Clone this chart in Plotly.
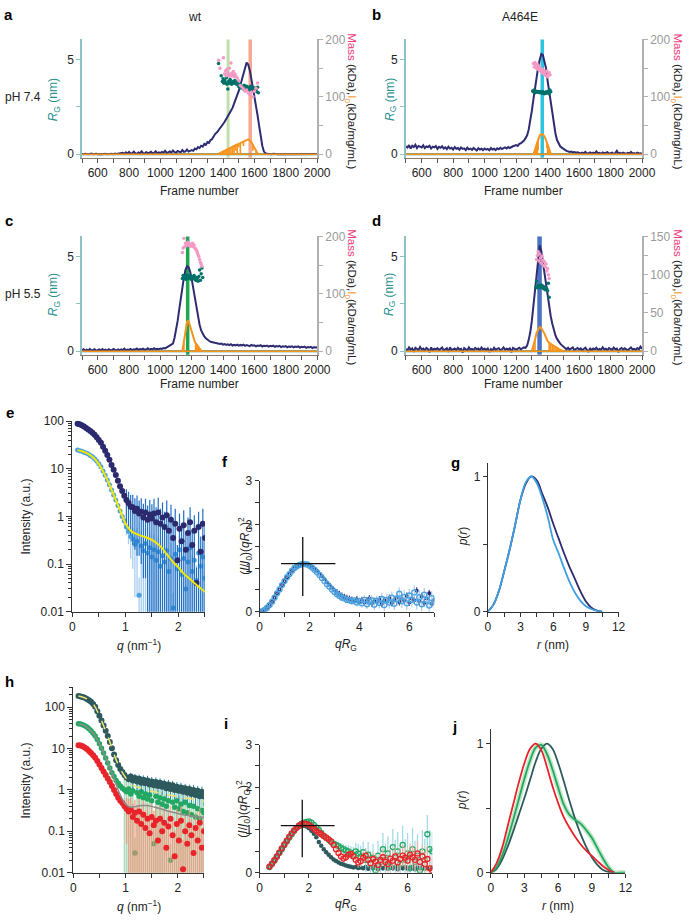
import plotly.graph_objects as go

W, H = 697, 921
FONT = "Liberation Sans, Arial, Helvetica, sans-serif"

# ------------------------------------------------------------------ data
FRAMES = list(range(500, 2001, 10))

INT_A = [0.02,0.00,0.03,0.01,0.00,0.02,0.04,0.00,0.01,0.03,
         0.00,0.02,0.01,0.00,0.03,0.02,0.00,0.01,0.04,0.02,
         0.00,0.03,0.01,0.02,0.05,0.03,0.08,0.02,0.10,0.04,
         0.12,0.03,0.06,0.14,0.05,0.02,0.09,0.04,0.15,0.06,
         0.03,0.11,0.05,0.08,0.13,0.04,0.07,0.16,0.05,0.10,
         0.06,0.12,0.08,0.18,0.07,0.10,0.15,0.09,0.20,0.11,
         0.08,0.17,0.12,0.10,0.22,0.13,0.15,0.25,0.14,0.20,
         0.22,0.18,0.30,0.26,0.38,0.33,0.45,0.40,0.55,0.50,
         0.64,0.60,0.75,0.80,0.95,1.08,1.15,1.28,1.38,1.50,
         1.60,1.72,1.85,2.00,2.15,2.30,2.45,2.65,2.85,3.10,
         3.35,3.65,3.95,4.30,4.60,4.85,4.75,4.45,4.00,3.55,
         3.05,2.60,2.05,1.50,0.95,0.45,0.15,0.05,0.02,0.01,
         0.01,0.00,0.02,0.00,0.01,0.00,0.00,0.02,0.01,0.00,
         0.00,0.01,0.00,0.02,0.00,0.01,0.00,0.00,0.01,0.00,
         0.02,0.00,0.01,0.00,0.00,0.01,0.00,0.00,0.01,0.00,
         0.01]
INT_B = [0.42,0.35,0.48,0.30,0.45,0.38,0.50,0.33,0.44,0.40,
         0.36,0.47,0.32,0.41,0.38,0.45,0.30,0.40,0.36,0.43,
         0.28,0.39,0.34,0.42,0.30,0.36,0.27,0.40,0.30,0.34,
         0.25,0.38,0.29,0.33,0.24,0.36,0.28,0.31,0.22,0.35,
         0.26,0.30,0.23,0.33,0.27,0.20,0.32,0.25,0.29,0.22,
         0.30,0.24,0.28,0.21,0.33,0.25,0.29,0.22,0.31,0.26,
         0.34,0.27,0.32,0.36,0.30,0.38,0.33,0.40,0.42,0.45,
         0.48,0.44,0.55,0.58,0.65,0.72,0.85,1.00,1.30,1.75,
         2.30,2.90,3.50,4.10,4.60,5.00,5.30,5.25,4.95,4.55,
         3.90,3.30,2.70,2.10,1.55,1.10,0.75,0.55,0.42,0.35,
         0.28,0.22,0.18,0.15,0.12,0.14,0.10,0.12,0.08,0.10,
         0.07,0.04,0.09,0.05,0.12,0.03,0.06,0.10,0.04,0.08,
         0.03,0.15,0.05,0.07,0.02,0.09,0.04,0.06,0.11,0.03,
         0.05,0.08,0.02,0.06,0.18,0.04,0.07,0.03,0.09,0.05,
         0.02,0.07,0.04,0.12,0.03,0.06,0.02,0.08,0.04,0.05,
         0.03]
INT_C = [0.05,0.10,0.02,0.08,0.04,0.12,0.03,0.07,0.10,0.02,
         0.06,0.09,0.03,0.11,0.05,0.08,0.02,0.10,0.06,0.04,
         0.12,0.07,0.03,0.09,0.05,0.10,0.06,0.13,0.04,0.09,
         0.07,0.12,0.05,0.10,0.08,0.14,0.06,0.11,0.09,0.13,
         0.07,0.10,0.15,0.08,0.12,0.10,0.16,0.09,0.13,0.11,
         0.14,0.12,0.17,0.15,0.20,0.22,0.28,0.33,0.40,0.70,
         1.10,1.60,2.20,2.80,3.40,3.90,4.30,4.50,4.45,4.20,
         3.80,3.30,2.70,2.20,1.80,1.40,1.10,0.90,0.78,0.68,
         0.60,0.55,0.50,0.48,0.45,0.43,0.42,0.40,0.38,0.40,
         0.35,0.38,0.33,0.36,0.32,0.37,0.30,0.34,0.31,0.35,
         0.29,0.33,0.30,0.34,0.28,0.32,0.30,0.27,0.33,0.29,
         0.31,0.26,0.30,0.28,0.32,0.25,0.29,0.27,0.30,0.24,
         0.28,0.26,0.29,0.23,0.27,0.25,0.28,0.22,0.26,0.24,
         0.27,0.21,0.25,0.23,0.26,0.20,0.24,0.22,0.25,0.19,
         0.23,0.21,0.24,0.18,0.22,0.20,0.23,0.17,0.21,0.19,
         0.20]
INT_D = [0.12,0.05,0.20,0.08,0.15,-0.03,0.18,0.10,0.06,0.22,
         0.09,0.14,0.04,0.17,0.11,-0.05,0.20,0.05,0.13,0.09,
         0.16,0.06,0.12,0.19,0.04,0.10,0.15,-0.04,0.21,0.06,
         0.11,0.14,0.05,0.18,0.09,0.13,-0.06,0.16,0.10,0.04,
         0.20,0.08,0.12,0.06,0.17,0.10,0.14,0.05,0.19,0.09,
         0.13,0.07,0.15,-0.04,0.11,0.04,0.18,0.08,0.12,0.16,
         0.06,0.10,0.20,0.07,0.13,0.09,0.15,-0.05,0.17,0.11,
         0.08,0.12,0.18,0.10,0.15,0.20,0.18,0.30,0.60,1.00,
         1.60,2.40,3.30,4.20,5.10,5.60,5.30,4.70,4.10,3.40,
         2.80,2.30,1.85,1.45,1.10,0.83,0.65,0.50,0.40,0.32,
         0.25,0.15,0.10,0.18,0.08,0.14,0.20,0.06,0.12,0.17,
         0.09,0.15,0.05,0.13,0.19,0.07,-0.04,0.16,0.04,0.14,
         0.10,0.18,0.06,0.12,0.08,0.21,0.09,0.13,0.05,0.16,
         0.11,0.07,0.19,0.10,0.14,-0.05,0.12,0.17,0.08,0.15,
         0.10,0.05,0.13,0.20,0.09,0.12,0.07,0.16,0.10,0.24,
         0.12]

RG_A_F = [1371,1388,1395,1400,1405,1410,1415,1420,1425,1430,1435,1440,1445,1450,1455,1460,1465,1470,1475,1480,
          1485,1490,1495,1500,1505,1510,1515,1520,1525,1530,1535,1540,1545,1550,1555,1560,1565,1570,1575,1580,
          1585,1590,1595,1600,1605,1610,1615,1620,1625]
RG_A = [4.80,4.15,3.85,4.00,3.75,3.90,3.80,4.05,3.70,3.45,3.85,3.75,3.95,3.80,3.70,3.85,3.80,3.75,3.90,3.80,
        3.70,3.75,3.85,3.60,3.55,3.70,3.50,3.60,3.55,3.45,3.65,3.50,3.55,3.60,3.45,3.50,3.55,3.40,3.60,3.50,
        3.45,3.55,3.40,3.50,3.35,3.45,3.30,3.55,3.25]
MASS_A_F = [1371,1380,1392,1402,1410,1415,1420,1425,1430,1435,1440,1445,1450,1455,1460,1465,1470,1475,1480,1490,
            1500,1510,1520,1530,1540,1550,1560,1570,1580,1590,1600,1610,1620]
MASS_A = [164,150,213,168,140,145,137,148,142,139,150,136,159,141,138,144,135,140,137,133,
          128,120,117,114,110,112,107,104,108,100,110,115,124]
I0_A_F = [1370,1380,1390,1400,1410,1420,1430,1440,1450,1460,1470,1480,1490,1500,1510,1520,1530,1540,1550,1560,
          1570,1580,1590,1600,1610,1620]
I0_A = [0.5,2,3.5,5,6.5,8,9.5,11,12,13.5,14.5,16,17,18,19.5,21,22.5,24,25.5,26,24,21,16,11,6,1.5]
I0_A_ERR = [0.5,2,3.5,5,6.5,8,9.5,11,12,13.5,14.5,10,17,6,19.5,0,8,0,0,0,0,0,10,0,6,1.5]

RG_B_F = [1305,1310,1315,1320,1325,1330,1335,1340,1345,1350,1355,1360,1365,1370,1375,1380,1385,1390,1395,1400,
          1405,1410,1415,1420]
RG_B = [3.35,3.30,3.40,3.25,3.35,3.30,3.28,3.32,3.30,3.25,3.30,3.28,3.22,3.30,3.25,3.20,3.28,3.22,3.30,3.25,
        3.35,3.20,3.40,3.30]
MASS_B_F = [1310,1315,1320,1325,1330,1335,1340,1345,1350,1355,1360,1365,1370,1375,1380,1385,1390,1395,1400,1405,
            1410,1415]
MASS_B = [158,152,160,155,150,157,148,153,146,150,144,148,141,146,139,143,137,145,135,140,142,138]
I0_B_F = [1310,1315,1320,1325,1330,1335,1340,1345,1350,1355,1360,1365,1370,1375,1380,1385,1390,1395,1400,1405,
          1410,1415,1420]
I0_B = [0,4,9,14,19,23,27,30,32.5,34,35,35,34.5,33,31,28,25,21,17,13,9,5,1]
I0_B_ERR = [0,4,9,14,19,23,20,0,0,0,0,0,0,0,0,0,0,10,17,13,9,5,1]

RG_C_F = [1140,1145,1150,1155,1160,1165,1170,1175,1180,1185,1190,1195,1200,1205,1210,1215,1220,1225,1230,1235,
          1240,1245,1250,1255,1260,1265,1270]
RG_C = [3.85,4.00,3.90,3.95,3.80,4.05,3.90,3.85,3.95,4.00,3.90,3.80,3.95,3.85,3.90,4.00,3.80,3.75,3.90,3.85,
        3.70,3.95,4.30,3.75,4.10,4.40,3.90]
MASS_C_F = [1140,1145,1150,1155,1160,1165,1170,1175,1180,1185,1190,1195,1200,1205,1210,1215,1220,1225,1230,1235,
            1240,1245,1250,1255,1260,1265]
MASS_C = [172,180,197,182,188,184,186,190,185,187,183,186,184,188,182,185,180,178,176,172,168,165,160,155,152,148]
I0_C_F = [1140,1145,1150,1155,1160,1165,1170,1175,1180,1185,1190,1195,1200,1205,1210,1215,1220,1225,1230,1235,
          1240,1245,1250,1255,1260]
I0_C = [0,8,17,27,37,46,51,53,52,48,43,38,32,27,22,19,16,14,12,10.5,9,7,5,3,1]
I0_C_ERR = [0,8,17,0,0,0,0,0,0,0,0,0,0,0,0,0,0,14,12,10.5,9,7,5,3,1]

RG_D_F = [1325,1330,1335,1340,1345,1350,1355,1360,1365,1370,1375,1380,1385,1390,1395,1400,1405,1410]
RG_D = [3.40,3.70,3.35,3.50,3.40,3.45,3.35,3.50,3.40,3.45,3.30,3.40,3.25,3.35,3.30,3.20,3.60,2.85]
MASS_D_F = [1330,1335,1340,1345,1350,1355,1360,1365,1370,1375,1380,1385,1390,1395,1400,1405,1410]
MASS_D = [120,125,130,118,127,122,115,124,119,112,117,110,114,105,108,100,95]
I0_D_F = [1300,1310,1320,1330,1340,1350,1360,1370,1380,1390,1400,1410,1420,1430,1440,1450,1460,1470,1480,1490,1500]
I0_D = [0,6,15,24,29,31.5,30,27,23,18,13,11,9.5,8,6.5,5,4,3,2,1,0]
I0_D_ERR = [0,6,15,0,0,0,0,0,0,0,0,11,9.5,8,6.5,5,4,3,2,1,0]

BAND_A = [1432, 1573]
BAND_B = [1366]
BAND_C = [1174]
BAND_D = [1349]

# SAXS curves (panel e, h): q grid
Q = [round(0.10 + 0.04 * i, 2) for i in range(61)]
Q_FIT = [round(0.1 * i, 1) for i in range(1, 26)]

E_DARK = [88,86,82,77,72,67,62,57,52,46,
          40,35,29,24,19.5,15.5,12,9.5,7.4,5.6,
          4.3,3.4,2.7,2.2,1.9,1.6,1.55,1.3,1.45,1.15,
          1.25,0.95,1.2,0.85,1.1,0.9,1.15,0.75,1.2,0.7,
          0.95,0.6,1.05,0.5,0.85,0.35,0.7,0.12,0.55,0.3,
          0.65,0.2,0.45,0.75,0.25,0.5,0.04,0.6,0.18,0.7,
          0.35]
E_DARK_ERR = [0,0,0,0,0,0,0,0,0,0,0,0,0,0,0,0,0,0,0,0,0,0,0,
              1.5,1.4,1.2,1.3,1.1,1.3,1.0,1.15,0.9,1.15,0.85,1.1,0.9,
              1.2,0.8,1.25,0.75,1.0,0.65,1.1,0.55,0.9,0.4,0.75,0.13,0.6,0.32,0.7,0.22,0.5,0.8,0.27,0.55,
              0.045,0.65,0.2,0.75,0.38]
E_LIGHT = [24.6,24,23.3,22.3,21.3,20.3,19,17.8,16.3,14.6,
           12.8,11,9.0,7.3,5.8,4.6,3.6,2.8,2.2,1.7,
           1.3,1.0,0.8,0.6,0.48,0.38,0.33,0.26,0.3,0.022,
           0.24,0.19,0.27,0.17,0.22,0.14,0.2,0.12,0.18,0.09,
           0.15,0.11,0.19,0.07,0.13,0.012,0.16,0.08,0.2,0.06,
           0.13,0.03,0.11,0.22,0.07,0.12,0.045,0.17,0.09,0.14,
           0.05]
E_LIGHT_ERR = [0,0,0,0,0,0,0,0,0,0,0,0,0,0,0,0,0,0,0,
               0.1,0.12,0.15,0.18,0.2,0.22,0.25,0.25,0.24,0.28,0.03,
               0.26,0.2,0.3,0.19,0.24,0.15,0.22,0.13,0.2,0.1,0.17,0.12,0.21,0.08,0.14,
               0.013,0.18,0.09,0.22,0.07,0.14,0.035,0.12,0.24,0.08,0.13,0.05,0.19,0.1,0.15,0.055]
E_FIT = [24.6,23.0,20.5,17.0,12.5,8.0,4.6,2.5,1.35,0.72,0.50,0.43,0.39,0.36,0.32,0.27,0.21,0.15,0.11,0.085,
         0.063,0.05,0.04,0.032,0.026]

# Kratky (panel f)
KX_F = [round(0.1 * i, 1) for i in range(1, 71)]
F_LIGHT = [0.01,0.04,0.09,0.15,0.23,0.32,0.42,0.51,0.61,0.70,
           0.79,0.86,0.94,1.00,1.04,1.07,1.09,1.09,1.08,1.05,
           1.01,0.96,0.90,0.84,0.77,0.70,0.63,0.57,0.51,0.45,
           0.40,0.36,0.32,0.30,0.27,0.26,0.24,0.26,0.21,0.24,
           0.19,0.27,0.17,0.23,0.26,0.16,0.25,0.20,0.29,0.15,
           0.27,0.21,0.32,0.18,0.29,0.41,0.24,0.34,0.19,0.37,
           0.27,0.44,0.21,0.33,0.17,0.39,0.26,0.14,0.31,0.23]
F_DARK = [0.01,0.04,0.09,0.15,0.23,0.32,0.42,0.51,0.61,0.70,
          0.79,0.87,0.94,1.00,1.04,1.07,1.09,1.10,1.09,1.06,
          1.03,0.98,0.93,0.87,0.81,0.74,0.67,0.61,0.55,0.49,
          0.44,0.40,0.36,0.33,0.31,0.29,0.27,0.25,0.28,0.23,
          0.26,0.21,0.25,0.30,0.19,0.24,0.22,0.28,0.18,0.26,
          0.23,0.31,0.20,0.27,0.33,0.22,0.29,0.25,0.36,0.21,
          0.30,0.26,0.48,0.24,0.35,0.20,0.30,0.42,0.18,0.27]
F_LIGHT_ERR = [0.02,0.02,0.02,0.02,0.02,0.02,0.02,0.02,0.02,0.02,
               0.02,0.02,0.02,0.02,0.02,0.02,0.02,0.02,0.02,0.02,
               0.02,0.02,0.02,0.02,0.02,0.02,0.02,0.02,0.02,0.02,
               0.05,0.05,0.06,0.06,0.07,0.07,0.08,0.08,0.09,0.09,
               0.10,0.10,0.11,0.11,0.12,0.12,0.12,0.13,0.13,0.13,
               0.14,0.14,0.14,0.14,0.15,0.15,0.15,0.15,0.15,0.15,
               0.16,0.16,0.16,0.16,0.16,0.16,0.16,0.16,0.16,0.16]
F_DARK_ERR = [0.02,0.02,0.02,0.02,0.02,0.02,0.02,0.02,0.02,0.02,
              0.02,0.02,0.02,0.02,0.02,0.02,0.02,0.02,0.02,0.02,
              0.02,0.02,0.02,0.02,0.02,0.02,0.02,0.02,0.02,0.02,
              0.08,0.08,0.08,0.08,0.08,0.08,0.08,0.08,0.08,0.08,
              0.08,0.08,0.08,0.08,0.08,0.08,0.08,0.08,0.08,0.08,
              0.08,0.08,0.08,0.08,0.08,0.08,0.08,0.08,0.08,0.08,
              0.08,0.08,0.08,0.08,0.08,0.08,0.08,0.08,0.08,0.08]
CROSS_X = [0.86, 3.04, None, 1.73, 1.73]
CROSS_Y = [1.10, 1.10, None, 0.36, 1.71]

# p(r) (panel g)
R_G = [0.5 * i for i in range(22)]
PR_G_NAVY = [0,0.05,0.15,0.30,0.46,0.64,0.83,0.95,1.00,0.97,0.87,0.77,0.65,0.54,0.43,0.33,0.24,0.15,0.075,0.03,0.008,0]
PR_G_LIGHT = [0,0.05,0.15,0.30,0.46,0.64,0.83,0.96,1.00,0.95,0.84,0.70,0.53,0.43,0.32,0.22,0.14,0.08,0.04,0.02,0.006,0]

# panel h
H_SLATE = [186,182,176,168,158,148,135,120,103,80,
           62,48,36,27,20,14.5,10.2,7.2,5.2,4.0,
           3.2,2.7,2.3,2.0,1.8,2.1,1.7,1.95,1.6,1.85,
           1.5,1.75,1.45,1.7,1.35,1.6,1.3,1.55,1.25,1.5,
           1.2,1.4,1.1,1.35,1.05,1.3,1.0,1.2,0.95,1.15,
           0.9,1.1,0.85,1.05,0.8,1.0,0.75,0.95,0.7,0.9,
           0.7]
H_SLATE_ERR = [0,0,0,0,0,0,0,0,0,0,0,0,0,0,0,0,0,0,0,0,0,0,0,0,0,
               0.5,0.6,0.5,0.6,0.5,0.6,0.5,0.55,0.5,0.55,0.45,0.5,0.45,0.5,0.4,0.45,0.4,0.45,0.4,0.45,
               0.35,0.4,0.35,0.4,0.35,0.4,0.3,0.35,0.3,0.35,0.3,0.35,0.3,0.3,0.3,0.3]
H_GREEN = [40,39,37.5,35.5,33,30,27,23.5,20,16.5,
           13,10.2,7.8,5.9,4.5,3.4,2.6,2.1,1.7,1.45,
           1.25,1.1,1.0,0.9,1.05,0.8,0.95,0.03,0.85,0.7,
           0.9,0.65,0.8,0.6,0.75,0.55,0.05,0.7,0.5,0.65,
           0.45,0.6,0.4,0.55,0.02,0.5,0.38,0.55,0.35,0.45,
           0.3,0.5,0.28,0.42,0.25,0.4,0.22,0.35,0.2,0.32,
           0.28]
H_GREEN_ERR = [0,0,0,0,0,0,0,0,0,0,0,0,0,0,0,0,0,0,0,0,0,0,
               1.0,0.9,1.05,0.8,0.95,0.04,0.85,0.7,0.9,0.65,0.8,0.6,0.75,0.55,0.06,0.7,0.5,0.65,0.45,0.6,
               0.4,0.55,0.03,0.5,0.38,0.55,0.35,0.45,0.3,0.5,0.28,0.42,0.25,0.4,0.22,0.35,0.2,0.32,0.28]
H_RED = [12,11.8,11.3,10.6,9.7,8.7,7.8,6.9,6.0,5.0,
         4.1,3.4,2.8,2.3,1.9,1.55,1.25,1.0,0.8,0.65,
         0.55,0.48,0.4,0.35,0.3,0.33,0.22,0.28,0.18,0.3,
         0.15,0.25,0.12,0.2,0.09,0.22,0.14,0.18,0.06,0.2,
         0.1,0.16,0.04,0.13,0.2,0.08,0.025,0.15,0.06,0.18,
         0.012,0.1,0.05,0.14,0.08,0.03,0.12,0.06,0.16,0.04,
         0.1]
H_RED_ERR = [0,0,0,0,0,0,0,0,0,0,0,0,0,0,0,0,0,0,0,0,0,0,0,
             0.3,0.3,0.33,0.25,0.3,0.22,0.3,0.2,0.28,0.18,0.26,0.15,0.25,0.18,0.22,0.12,0.22,0.15,0.2,0.1,
             0.18,0.22,0.12,0.08,0.2,0.1,0.22,0.05,0.15,0.1,0.18,0.12,0.08,0.16,0.1,0.2,0.08,0.14]
H_FIT_SLATE = [186,172,148,111,62,31,14.5,6.2,3.2,2.0,1.4,1.2,1.1,1.0,0.93,0.87,0.82,0.77,0.73,0.69,
               0.66,0.62,0.59,0.56,0.53]
H_FIT_GREY = [40,37,30,22,13,7.0,3.5,1.6,0.75,0.45,0.38,0.40,0.42,0.42,0.40,0.37,0.34,0.31,0.29,0.27,
              0.25,0.24,0.23,0.22,0.22]

# Kratky (panel i)
KX_I = [round(0.1 * i, 1) for i in range(4, 71)]
I_SLATE = [0.13,0.20,0.28,0.37,0.46,0.56,0.65,0.74,0.83,0.91,
           0.98,1.04,1.08,1.10,1.10,1.08,1.04,0.98,0.91,0.83,
           0.72,0.63,0.55,0.48,0.42,0.36,0.31,0.27,0.24,0.21,
           0.19,0.17,0.15,0.14,0.12,0.13,0.11,0.12,0.10,0.13,
           0.09,0.12,0.10,0.14,0.08,0.12,0.10,0.13,0.09,0.12,
           0.10,0.14,0.08,0.12,0.10,0.13,0.09,0.11,0.14,0.08,
           0.12,0.10,0.13,0.09,0.11,0.10,0.12]
I_GREEN = [0.13,0.20,0.28,0.37,0.46,0.55,0.64,0.73,0.82,0.90,
           0.98,1.05,1.10,1.14,1.17,1.19,1.20,1.17,1.12,1.06,
           1.00,0.93,0.86,0.82,0.77,0.72,0.68,0.65,0.62,0.58,
           0.55,0.52,0.50,0.47,0.42,0.50,0.45,0.38,0.48,0.30,
           0.42,0.20,0.35,0.05,0.40,0.25,0.55,0.30,0.45,0.15,
           0.60,0.35,0.50,0.20,0.65,0.30,0.45,0.10,0.55,0.25,
           0.40,0.05,0.50,0.30,0.90,0.55,0.50]
I_RED = [0.14,0.21,0.29,0.38,0.47,0.57,0.66,0.75,0.84,0.92,
         0.99,1.05,1.10,1.14,1.15,1.14,1.12,1.08,1.03,0.98,
         0.94,0.90,0.86,0.82,0.78,0.73,0.65,0.55,0.46,0.38,
         0.33,0.36,0.42,0.44,0.38,0.30,0.24,0.27,0.35,0.40,
         0.30,0.22,0.32,0.26,0.18,0.30,0.36,0.25,0.20,0.33,
         0.28,0.38,0.24,0.32,0.40,0.35,0.28,0.42,0.36,0.30,
         0.45,0.25,0.38,0.20,0.32,0.10,0.05]
I_SLATE_ERR = [0.01,0.01,0.01,0.01,0.01,0.01,0.01,0.01,0.01,0.01,
               0.01,0.01,0.01,0.01,0.01,0.01,0.01,0.01,0.01,0.01,
               0.03,0.03,0.03,0.03,0.03,0.03,0.03,0.03,0.03,0.03,
               0.03,0.03,0.03,0.03,0.03,0.03,0.03,0.03,0.03,0.03,
               0.05,0.05,0.05,0.05,0.05,0.05,0.05,0.05,0.05,0.05,
               0.05,0.05,0.05,0.05,0.05,0.05,0.05,0.05,0.05,0.05,
               0.05,0.05,0.05,0.05,0.05,0.05,0.05]
I_GREEN_ERR = [0.02,0.02,0.02,0.02,0.02,0.02,0.02,0.02,0.02,0.02,
               0.02,0.02,0.02,0.02,0.02,0.02,0.02,0.02,0.02,0.02,
               0.06,0.06,0.07,0.07,0.08,0.08,0.09,0.10,0.10,0.11,
               0.12,0.13,0.14,0.15,0.18,0.20,0.22,0.25,0.25,0.28,
               0.30,0.30,0.32,0.32,0.35,0.35,0.38,0.38,0.40,0.40,
               0.42,0.42,0.45,0.45,0.45,0.48,0.48,0.50,0.50,0.50,
               0.50,0.50,0.50,0.50,0.45,0.45,0.45]
I_RED_ERR = [0.02,0.02,0.02,0.02,0.02,0.02,0.02,0.02,0.02,0.02,
             0.02,0.02,0.02,0.02,0.02,0.02,0.02,0.02,0.02,0.02,
             0.04,0.04,0.05,0.05,0.05,0.06,0.06,0.07,0.07,0.08,
             0.08,0.09,0.10,0.10,0.11,0.12,0.12,0.13,0.14,0.15,
             0.15,0.16,0.17,0.18,0.18,0.19,0.20,0.20,0.21,0.22,
             0.22,0.23,0.24,0.24,0.25,0.25,0.26,0.26,0.27,0.27,
             0.28,0.28,0.28,0.30,0.30,0.30,0.30]

# p(r) (panel j)
R_J = [0.5 * i for i in range(25)]
PR_J_SLATE = [0,0.03,0.10,0.20,0.32,0.45,0.58,0.72,0.86,0.96,1.00,0.96,0.85,0.71,0.56,0.42,0.30,0.20,0.12,0.06,
              0.02,0.005,0]
PR_J_GREEN = [0,0.04,0.13,0.26,0.41,0.57,0.73,0.87,0.97,0.99,0.92,0.80,0.66,0.53,0.45,0.41,0.38,0.33,0.27,0.19,
              0.11,0.04,0,0,0]
PR_J_RED = [0,0.07,0.19,0.36,0.53,0.70,0.85,0.96,1.00,0.95,0.82,0.67,0.54,0.43,0.35,0.28,0.22,0.17,0.13,0.09,
            0.05,0.02,0]

for name, arr, n in [("INT_A", INT_A, 151), ("INT_B", INT_B, 151), ("INT_C", INT_C, 151), ("INT_D", INT_D, 151),
                     ("E_DARK", E_DARK, 61), ("E_DARK_ERR", E_DARK_ERR, 61), ("E_LIGHT", E_LIGHT, 61),
                     ("E_LIGHT_ERR", E_LIGHT_ERR, 61), ("H_SLATE", H_SLATE, 61), ("H_SLATE_ERR", H_SLATE_ERR, 61),
                     ("H_GREEN", H_GREEN, 61), ("H_GREEN_ERR", H_GREEN_ERR, 61), ("H_RED", H_RED, 61),
                     ("H_RED_ERR", H_RED_ERR, 61), ("F_LIGHT", F_LIGHT, 70), ("F_DARK", F_DARK, 70),
                     ("I_SLATE", I_SLATE, 67), ("I_GREEN", I_GREEN, 67), ("I_RED", I_RED, 67),
                     ("I_GREEN_ERR", I_GREEN_ERR, 67), ("I_RED_ERR", I_RED_ERR, 67), ("I_SLATE_ERR", I_SLATE_ERR, 67)]:
    assert len(arr) == n, (name, len(arr))

# ------------------------------------------------------------------ style
NAVY = "#2e2c72"
TEAL_DOT = "#00716a"
TEAL_TXT = "#2a9090"
PINK = "#f49ac4"
MASS_TXT = "#ee3b7a"
ORANGE = "#f7941d"
GREY_AX = "#b0b0b0"
AXC = "#333333"


def fx(p):
    return p / W


def fy(p):
    return 1 - p / H


fig = go.Figure()
layout = dict(width=W, height=H, margin=dict(l=0, r=0, t=0, b=0), paper_bgcolor="white",
              plot_bgcolor="white", showlegend=False, font=dict(family=FONT, size=12, color="#222"))
shapes = []
ann = []


def text(x, y, s, size=12, color="#222", angle=0, xanchor="center"):
    ann.append(dict(x=fx(x), y=fy(y), xref="paper", yref="paper", text=s, showarrow=False,
                    font=dict(family=FONT, size=size, color=color), textangle=angle,
                    xanchor=xanchor, yanchor="middle"))


base_ax = dict(showgrid=False, zeroline=False, showline=True, ticks="outside", ticklen=4, tickwidth=1,
               tickfont=dict(size=12, color="#222"), linewidth=1)


def minor(vals, color, ln=4):
    return dict(tickvals=vals, ticks="outside", ticklen=ln, tickcolor=color, showgrid=False)


# ---------- chromatogram panels a-d
chrom = [
    (1, 1, 2, 81, 322, 33, 153, INT_A, RG_A_F, RG_A, MASS_A_F, MASS_A, I0_A_F, I0_A, I0_A_ERR,
     BAND_A, ["#bfe0a8", "#f8a88e"], [3, 3.5], 200),
    (2, 3, 4, 413, 655, 33, 153, INT_B, RG_B_F, RG_B, MASS_B_F, MASS_B, I0_B_F, I0_B, I0_B_ERR,
     BAND_B, ["#2ec4e0"], [3.5], 200),
    (3, 5, 6, 81, 322, 233, 353, INT_C, RG_C_F, RG_C, MASS_C_F, MASS_C, I0_C_F, I0_C, I0_C_ERR,
     BAND_C, ["#1ea650"], [3.5], 200),
    (4, 7, 8, 413, 655, 233, 353, INT_D, RG_D_F, RG_D, MASS_D_F, MASS_D, I0_D_F, I0_D, I0_D_ERR,
     BAND_D, ["#4a72c2"], [4.5], 150),
]

for (xn, yl, yr, x0, x1, ytop, ybot, inten, rgf, rg, mf, m, i0f, i0, i0e, bands, bcols, bws, rmax) in chrom:
    xa = "x" if xn == 1 else "x%d" % xn
    yla = "y" if yl == 1 else "y%d" % yl
    yra = "y%d" % yr
    zero_px = ybot - 3.5
    px_per_nm = (zero_px - ytop) / 6.07
    lo = -(ybot - zero_px) / px_per_nm
    px_per_k = (zero_px - ytop) / rmax
    rlo = -(ybot - zero_px) / px_per_k

    layout["xaxis" if xn == 1 else "xaxis%d" % xn] = dict(
        base_ax, domain=[fx(x0), fx(x1)], anchor=yla, range=[500, 2000],
        tickvals=[600, 800, 1000, 1200, 1400, 1600, 1800, 2000], linecolor="#8a7a70",
        tickcolor="#555", minor=minor([500, 700, 900, 1100, 1300, 1500, 1700, 1900], "#555"))
    layout["yaxis" if yl == 1 else "yaxis%d" % yl] = dict(
        base_ax, domain=[fy(ybot), fy(ytop)], anchor=xa, range=[lo, 6.07],
        tickvals=[0, 5], linecolor="#8cc2c4", linewidth=1.5,
        tickcolor="#8cc2c4", minor=minor([2.5], "#8cc2c4"))
    if rmax == 200:
        rtv, rmn = [0, 100, 200], [50, 150]
    else:
        rtv, rmn = [0, 50, 100, 150], [25, 75, 125]
    layout["yaxis%d" % yr] = dict(
        base_ax, overlaying=yla, side="right", anchor=xa, range=[rlo, rmax],
        tickvals=rtv, linecolor=GREY_AX, linewidth=1.5, tickcolor=GREY_AX,
        tickfont=dict(size=12, color="#9a9a9a"), minor=minor(rmn, GREY_AX))

    for f, c, w in zip(bands, bcols, bws):
        shapes.append(dict(type="line", xref=xa, yref=yla + " domain", x0=f, x1=f, y0=0, y1=1,
                           line=dict(color=c, width=w), layer="below"))

    fig.add_trace(go.Scatter(x=[FRAMES[0], FRAMES[-1]], y=[0, 0], mode="lines", xaxis=xa, yaxis=yla,
                             line=dict(color="#2a8a80", width=2), hoverinfo="skip"))
    fig.add_trace(go.Scatter(x=FRAMES, y=inten, mode="lines", xaxis=xa, yaxis=yla,
                             line=dict(color=NAVY, width=2)))
    fig.add_trace(go.Scatter(x=rgf, y=rg, mode="markers", xaxis=xa, yaxis=yla,
                             marker=dict(color=TEAL_DOT, size=3.5)))
    fig.add_trace(go.Scatter(x=[FRAMES[0], FRAMES[-1]], y=[0, 0], mode="lines", xaxis=xa, yaxis=yra,
                             line=dict(color=ORANGE, width=1.5), hoverinfo="skip"))
    fig.add_trace(go.Scatter(x=i0f, y=i0, mode="lines", xaxis=xa, yaxis=yra,
                             line=dict(color=ORANGE, width=2),
                             error_y=dict(type="data", symmetric=False, array=[0] * len(i0e),
                                          arrayminus=i0e, color=ORANGE, thickness=1.6, width=0)))
    fig.add_trace(go.Scatter(x=mf, y=m, mode="markers", xaxis=xa, yaxis=yra,
                             marker=dict(color=PINK, size=3.5)))

# chromatogram texts
RG_T = "<i>R</i><sub>G</sub> (nm)"
MASS_T = ("<span style='color:%s'>Mass</span> (kDa),<span style='color:%s'>I<sub>0</sub></span>"
          "(kDa/mg/mL)" % (MASS_TXT, ORANGE))
for xc, yc in [(52, 94), (397, 94), (52, 292), (396, 292)]:
    text(xc, yc, RG_T, size=12, color=TEAL_TXT, angle=-90)
for xc, yc in [(357, 96), (691, 96), (357, 295), (691, 295)]:
    text(xc, yc, MASS_T, size=11.5, color="#222", angle=90)
for xc, yc in [(201, 187), (533, 187), (201, 383), (533, 383)]:
    text(xc, yc, "Frame number", size=12)
text(0, 91, "pH 7.4", size=12, xanchor="left")
text(0, 291, "pH 5.5", size=12, xanchor="left")
text(197, 10, "wt", size=12)
text(530, 10, "A464E", size=12)

# ---------- lower panels
LOG_MINOR = [mm * 10 ** e for e in (-2, -1, 0, 1, 2) for mm in range(2, 10)]
lower = dict(base_ax, linecolor=AXC, tickcolor=AXC)

# e
layout["xaxis5"] = dict(lower, domain=[fx(71), fx(207)], anchor="y9", range=[0, 2.5],
                        tickvals=[0, 1, 2], minor=minor([0.5, 1.5, 2.5], AXC))
layout["yaxis9"] = dict(lower, domain=[fy(614), fy(420)], anchor="x5", type="log", range=[-2, 2.01],
                        tickvals=[0.01, 0.1, 1, 10, 100], ticktext=["0.01", "0.1", "1", "10", "100"],
                        ticklen=5, minor=minor(LOG_MINOR, AXC, 3))
fig.add_trace(go.Scatter(x=Q, y=E_LIGHT, mode="markers", xaxis="x5", yaxis="y9",
                         marker=dict(color="#4aa3e0", size=5),
                         error_y=dict(type="data", array=E_LIGHT_ERR, color="#a8cdef", thickness=1.3, width=0)))
fig.add_trace(go.Scatter(x=Q, y=E_DARK, mode="markers", xaxis="x5", yaxis="y9",
                         marker=dict(color="#2c2a6e", size=6),
                         error_y=dict(type="data", array=E_DARK_ERR, color="#1f6fc4", thickness=1.2, width=0)))
fig.add_trace(go.Scatter(x=Q_FIT, y=E_FIT, mode="lines", xaxis="x5", yaxis="y9", line_shape="spline",
                         line=dict(color="#f4e500", width=2)))

# f
layout["xaxis6"] = dict(lower, domain=[fx(263), fx(442)], anchor="y10", range=[0, 7],
                        tickvals=[0, 2, 4, 6], minor=minor([1, 3, 5, 7], AXC))
layout["yaxis10"] = dict(lower, domain=[fy(614), fy(481)], anchor="x6", range=[0, 3],
                         tickvals=[0, 1, 2, 3], minor=minor([0.5, 1.5, 2.5], AXC))
fig.add_trace(go.Scatter(x=KX_F, y=F_DARK, mode="markers", xaxis="x6", yaxis="y10",
                         marker=dict(color="#2c2a6e", size=4),
                         error_y=dict(type="data", array=F_DARK_ERR, color="#2c2a6e", thickness=1, width=0)))
fig.add_trace(go.Scatter(x=KX_F, y=F_LIGHT, mode="markers", xaxis="x6", yaxis="y10",
                         marker=dict(color="#4aa3e0", size=5, symbol="circle-open", line=dict(width=1.3)),
                         error_y=dict(type="data", array=F_LIGHT_ERR, color="#a8cdef", thickness=1.2, width=0)))
fig.add_trace(go.Scatter(x=CROSS_X, y=CROSS_Y, mode="lines", xaxis="x6", yaxis="y10",
                         line=dict(color="#111", width=1.3)))

# g
layout["xaxis7"] = dict(lower, domain=[fx(497), fx(631)], anchor="y11", range=[0, 12],
                        tickvals=[0, 3, 6, 9, 12], minor=minor([1.5, 4.5, 7.5, 10.5], AXC))
layout["yaxis11"] = dict(lower, domain=[fy(614), fy(463)], anchor="x7", range=[0, 1.1],
                         tickvals=[0, 1], minor=minor([0.5], AXC))
fig.add_trace(go.Scatter(x=R_G, y=PR_G_NAVY, mode="lines", xaxis="x7", yaxis="y11", line_shape="spline",
                         line=dict(color="#2c2a6e", width=1.8)))
fig.add_trace(go.Scatter(x=R_G, y=PR_G_LIGHT, mode="lines", xaxis="x7", yaxis="y11", line_shape="spline",
                         line=dict(color="#3f9fe0", width=1.8)))

# h
layout["xaxis8"] = dict(lower, domain=[fx(72), fx(206)], anchor="y12", range=[0, 2.5],
                        tickvals=[0, 1, 2], minor=minor([0.5, 1.5, 2.5], AXC))
layout["yaxis12"] = dict(lower, domain=[fy(879), fy(690)], anchor="x8", type="log", range=[-2, 2.5],
                         tickvals=[0.01, 0.1, 1, 10, 100], ticktext=["0.01", "0.1", "1", "10", "100"],
                         ticklen=5, minor=minor(LOG_MINOR, AXC, 3))
fig.add_trace(go.Scatter(x=Q, y=H_GREEN, mode="markers", xaxis="x8", yaxis="y12",
                         marker=dict(color="#22a862", size=5.5),
                         error_y=dict(type="data", array=H_GREEN_ERR, color="rgba(150,210,170,0.8)",
                                      thickness=1.6, width=0)))
fig.add_trace(go.Scatter(x=Q, y=H_RED, mode="markers", xaxis="x8", yaxis="y12",
                         marker=dict(color="#e8232a", size=6),
                         error_y=dict(type="data", array=H_RED_ERR, color="rgba(240,150,120,0.75)",
                                      thickness=1.6, width=0)))
fig.add_trace(go.Scatter(x=Q, y=H_SLATE, mode="markers", xaxis="x8", yaxis="y12",
                         marker=dict(color="#2e5a5e", size=6),
                         error_y=dict(type="data", array=H_SLATE_ERR, color="#2387a8", thickness=1.0, width=0)))
fig.add_trace(go.Scatter(x=Q_FIT, y=H_FIT_GREY, mode="lines", xaxis="x8", yaxis="y12", line_shape="spline",
                         line=dict(color="#8c8c8c", width=1.5)))
fig.add_trace(go.Scatter(x=Q_FIT, y=H_FIT_SLATE, mode="lines", xaxis="x8", yaxis="y12", line_shape="spline",
                         line=dict(color="#efe070", width=1.5, dash="dash")))

# i
layout["xaxis9"] = dict(lower, domain=[fx(263), fx(440)], anchor="y13", range=[0, 7],
                        tickvals=[0, 2, 4, 6], minor=minor([1, 3, 5, 7], AXC))
layout["yaxis13"] = dict(lower, domain=[fy(879), fy(749)], anchor="x9", range=[0, 3],
                         tickvals=[0, 1, 2, 3], minor=minor([0.5, 1.5, 2.5], AXC))
fig.add_trace(go.Scatter(x=KX_I, y=I_SLATE, mode="markers", xaxis="x9", yaxis="y13",
                         marker=dict(color="#2e5a5e", size=4.5),
                         error_y=dict(type="data", array=I_SLATE_ERR, color="#2e5a5e", thickness=1, width=0)))
fig.add_trace(go.Scatter(x=KX_I, y=I_GREEN, mode="markers", xaxis="x9", yaxis="y13",
                         marker=dict(color="#22a862", size=5, symbol="circle-open", line=dict(width=1.3)),
                         error_y=dict(type="data", array=I_GREEN_ERR, color="rgba(140,210,225,0.8)",
                                      thickness=1.3, width=0)))
fig.add_trace(go.Scatter(x=KX_I, y=I_RED, mode="markers", xaxis="x9", yaxis="y13",
                         marker=dict(color="#e8232a", size=5, symbol="circle-open", line=dict(width=1.3)),
                         error_y=dict(type="data", array=I_RED_ERR, color="rgba(245,175,150,0.75)",
                                      thickness=1.3, width=0)))
fig.add_trace(go.Scatter(x=CROSS_X, y=CROSS_Y, mode="lines", xaxis="x9", yaxis="y13",
                         line=dict(color="#111", width=1.3)))

# j
layout["xaxis10"] = dict(lower, domain=[fx(500), fx(638)], anchor="y14", range=[0, 12],
                         tickvals=[0, 3, 6, 9, 12], minor=minor([1.5, 4.5, 7.5, 10.5], AXC))
layout["yaxis14"] = dict(lower, domain=[fy(879), fy(733)], anchor="x10", range=[0, 1.115],
                         tickvals=[0, 1], minor=minor([0.5], AXC))
fig.add_trace(go.Scatter(x=R_J[:len(PR_J_GREEN)], y=PR_J_GREEN, mode="lines", xaxis="x10", yaxis="y14",
                         line_shape="spline", line=dict(color="rgba(150,215,160,0.6)", width=5)))
fig.add_trace(go.Scatter(x=R_J[:len(PR_J_SLATE)], y=PR_J_SLATE, mode="lines", xaxis="x10", yaxis="y14",
                         line_shape="spline", line=dict(color="#2e5a5e", width=1.8)))
fig.add_trace(go.Scatter(x=R_J[:len(PR_J_GREEN)], y=PR_J_GREEN, mode="lines", xaxis="x10", yaxis="y14",
                         line_shape="spline", line=dict(color="#22a862", width=1.8)))
fig.add_trace(go.Scatter(x=R_J[:len(PR_J_RED)], y=PR_J_RED, mode="lines", xaxis="x10", yaxis="y14",
                         line_shape="spline", line=dict(color="#e8232a", width=1.8)))

# lower texts
INT_T = "Intensity (a.u.)"
Q_T = "<i>q</i> (nm<sup>\u22121</sup>)"
QRG_T = "<i>qR</i><sub>G</sub>"
KR_T = "(<i>I</i>/<i>I</i><sub>0</sub>)(<i>qR</i><sub>G</sub>)<sup>2</sup>"
PR_T = "<i>p</i>(<i>r</i>)"
R_T = "<i>r</i> (nm)"
text(24, 517, INT_T, angle=-90)
text(24, 785, INT_T, angle=-90)
text(248, 547, KR_T, angle=-90)
text(246, 814, KR_T, angle=-90)
text(471, 538, PR_T, angle=-90)
text(470, 806, PR_T, angle=-90)
text(139, 648, Q_T)
text(139, 913, Q_T)
text(352, 648, QRG_T)
text(352, 912, QRG_T)
text(564, 648, R_T)
text(569, 913, R_T)

# panel letters
for lt, xc, yc in [("a", 6, 8), ("b", 383, 8), ("c", 6, 217), ("d", 383, 217), ("e", 7, 412), ("f", 228, 462),
                   ("g", 464, 463), ("h", 7, 685), ("i", 229, 728), ("j", 463, 731)]:
    text(xc, yc, "<b>%s</b>" % lt, size=15, color="#000")

layout["shapes"] = shapes
layout["annotations"] = ann
fig.update_layout(**layout)
fig.write_html("out.html", config={"displayModeBar": False},
               post_script="document.body.style.margin='0';document.body.style.padding='0';")
